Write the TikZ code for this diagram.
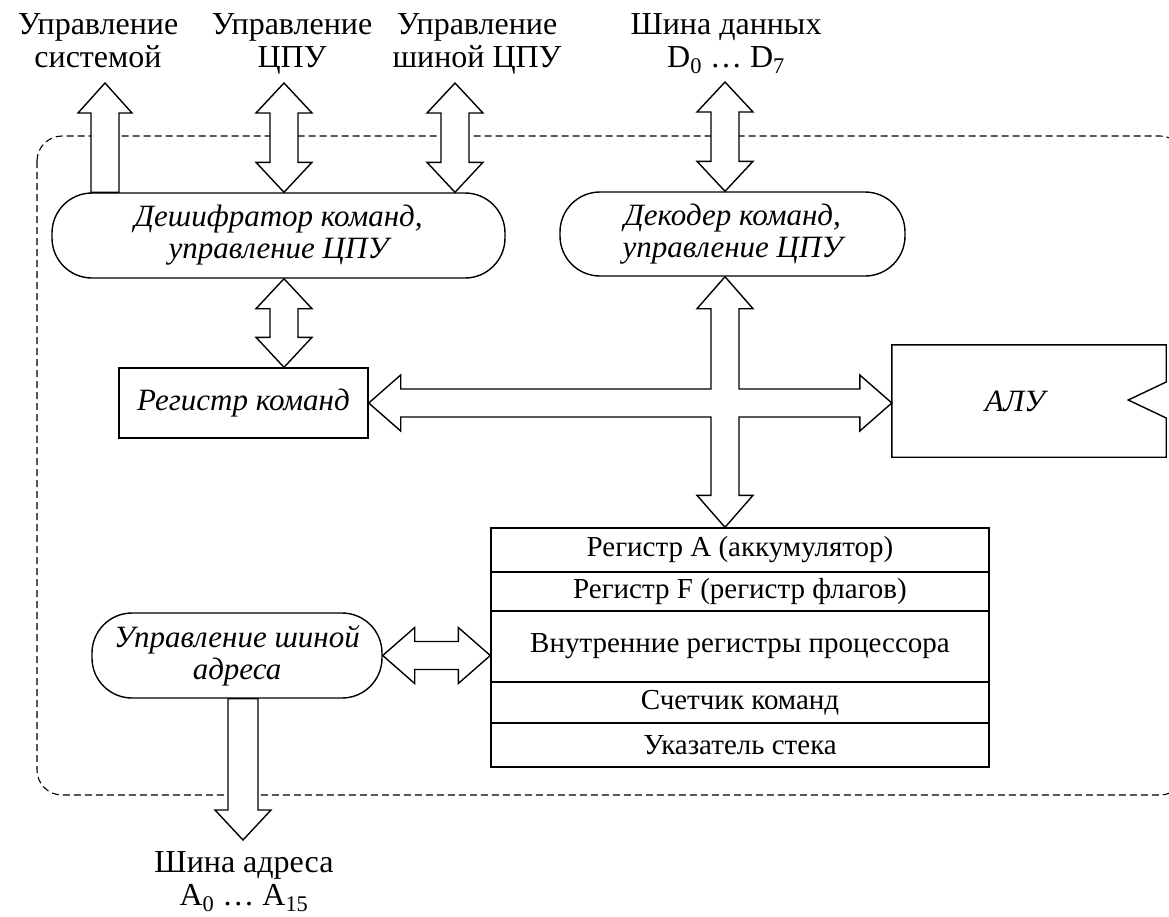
\documentclass[tikz,border=0pt]{standalone}
\usepackage{fontspec}
\setmainfont{Liberation Serif}
\usetikzlibrary{calc}

% double block arrow, vertical (#1 top tip, #2 bottom tip)
\newcommand{\vbus}[2]{%
  \draw[bus] (#1) -- ++(28,30) -- ++(-14,0) -- ($(#2)+(14,-30)$) -- ++(14,0)
    -- (#2) -- ++(-28,-30) -- ++(14,0) -- ($(#1)+(-14,30)$) -- ++(-14,0) -- cycle;}
% double block arrow, horizontal (#1 left tip, #2 right tip)
\newcommand{\hbus}[2]{%
  \draw[bus] (#1) -- ++(32,-28) -- ++(0,14) -- ($(#2)+(-32,-14)$) -- ++(0,-14)
    -- (#2) -- ++(-32,28) -- ++(0,-14) -- ($(#1)+(32,14)$) -- ++(0,14) -- cycle;}

\begin{document}
\begin{tikzpicture}[x=1pt,y=-1pt,
    bus/.style={draw,fill=white,line width=1.4pt,line join=miter},
    blk/.style={draw,line width=1.4pt,inner sep=0pt,align=center,
      font=\fontsize{31}{32}\selectfont\itshape},
    oval/.style={blk,rounded corners=40pt},
    reg/.style={draw,line width=1.4pt,inner sep=0pt,minimum width=498pt,
      font=\fontsize{29}{31}\selectfont},
    lbl/.style={inner sep=0pt,align=center,anchor=north,
      font=\fontsize{32}{33}\selectfont}]

      \useasboundingbox (0,0) rectangle (1169,916);

      % processor outline
      \draw[dash pattern=on 7pt off 4pt,line width=1.1pt,rounded corners=25pt]
        (37,136) rectangle (1185,795);

      % outside labels
      \node[lbl] (lsys) at (98,13) {Управление\\системой};
      \node[lbl] (lcpu) at (292,13) {Управление\\ЦПУ};
      \node[lbl] (lcbus) at (477,13) {Управление\\шиной ЦПУ};
      \node[lbl] (ldata) at (726,13) {Шина данных\\D\textsubscript{0} \ldots{} D\textsubscript{7}};
      \node[lbl] (laddr) at (244,851) {Шина адреса\\A\textsubscript{0} \ldots{} A\textsubscript{15}};

      % blocks
      \node[oval,minimum width=453pt,minimum height=85pt] (dsh) at (278.5,235.5) {Дешифратор команд,\\управление ЦПУ};
      \node[oval,minimum width=345pt,minimum height=84pt] (dek) at (732.5,234) {Декодер команд,\\управление ЦПУ};
      \node[blk,minimum width=249pt,minimum height=70pt] (rk) at (243.5,403) {Регистр команд};
      \node[oval,minimum width=290pt,minimum height=85pt] (adr) at (237,655.5) {Управление шиной\\адреса};

      % ALU
      \node[inner sep=0pt,minimum width=274pt,minimum height=112pt] (alu) at (1029,401) {};
      \draw[line width=1.4pt] ($(alu.east)+(0,-19)$) -- (alu.north east) -- (alu.north west)
        -- (alu.south west) -- (alu.south east) -- ($(alu.east)+(0,17)$)
        -- ($(alu.east)+(-38,-1)$) -- cycle;
      \node[font=\fontsize{31}{32}\selectfont\itshape] (alutxt) at ($(alu.center)+(-14,0)$) {АЛУ};

      % registers
      \node[reg,minimum height=44pt] (rega) at (740,550) {Регистр A (аккумулятор)};
      \node[reg,minimum height=39pt] (regf) at (740,591.5) {Регистр F (регистр флагов)};
      \node[reg,minimum height=71pt] (regi) at (740,646.5) {Внутренние регистры процессора};
      \node[reg,minimum height=41pt] (pc) at (740,702.5) {Счетчик команд};
      \node[reg,minimum height=44pt] (sp) at (740,745) {Указатель стека};

      % bus tips
      \coordinate (t1) at (105,83);
      \coordinate (t2) at (284,83);
      \coordinate (t3) at (455,83);
      \coordinate (t4) at (725,82);
      \coordinate (ta) at (243,840);

      % buses
      \draw[bus] (t1) -- ++(27,30) -- ++(-13,0) -- ($(t1 |- dsh.north)+(14,0)$) -- ++(-28,0)
        -- ($(t1)+(-14,30)$) -- ++(-13,0) -- cycle;
      \vbus{t2}{t2 |- dsh.north}
      \vbus{t3}{t3 |- dsh.north}
      \vbus{t4}{t4 |- dek.north}
      \vbus{t2 |- dsh.south}{t2 |- rk.north}
      \draw[bus] (t4 |- dek.south) -- ++(28,32) -- ++(-14,0) |- ($(alu.west |- rk.east)+(-32,-14)$)
        -- ++(0,-14) -- (alu.west |- rk.east) -- ++(-32,28) -- ++(0,-14)
        -| ($(t4 |- rega.north)+(14,-32)$) -- ++(14,0) -- (t4 |- rega.north)
        -- ++(-28,-32) -- ++(14,0) |- ($(rk.east)+(32,14)$) -- ++(0,14) -- (rk.east)
        -- ++(32,-28) -- ++(0,14) -| ($(t4 |- dek.south)+(-14,32)$) -- ++(-14,0) -- cycle;
      \hbus{adr.east}{regi.west |- adr.east}
      \draw[bus] ($(ta |- adr.south)+(15,0)$) -- ($(ta)+(15,-30)$) -- ++(13,0) -- (ta)
        -- ++(-28,-30) -- ++(13,0) -- ($(ta |- adr.south)+(-15,0)$) -- cycle;
    \end{tikzpicture}
\end{document}
